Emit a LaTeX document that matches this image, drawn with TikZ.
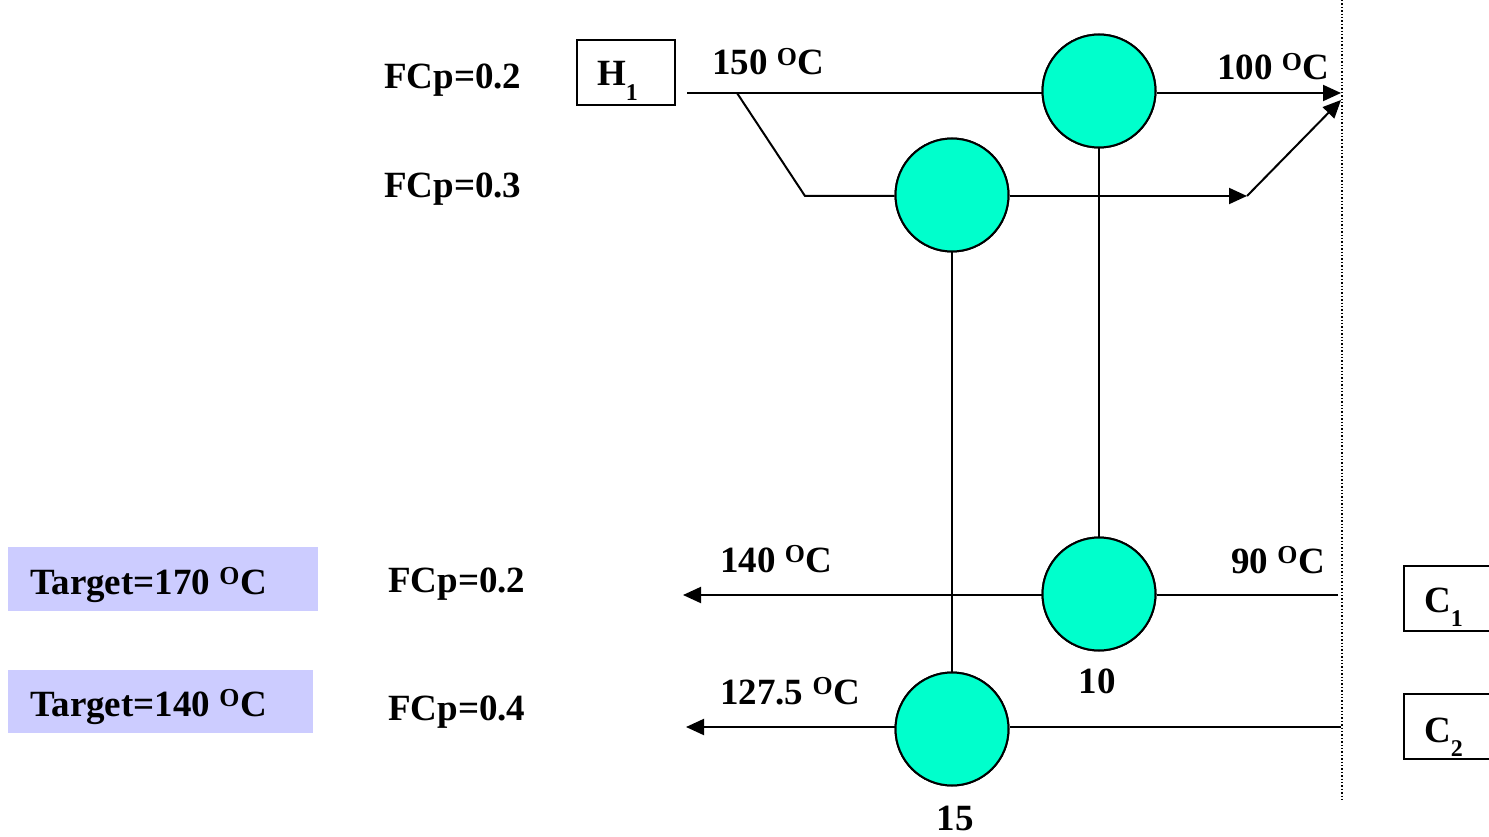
\documentclass[tikz,border=0pt]{standalone}
\usepackage{fontspec}
\setmainfont{Liberation Serif}
\usetikzlibrary{arrows.meta}
\definecolor{hxfill}{HTML}{00FFCC}
\definecolor{tgfill}{HTML}{CCCCFF}
\tikzset{
  lbl/.style={anchor=base west, inner sep=0pt, font=\fontsize{37}{40}\selectfont\bfseries},
  lblc/.style={anchor=base, inner sep=0pt, font=\fontsize{37}{40}\selectfont\bfseries},
  hx/.style={circle, draw, line width=2pt, fill=hxfill, minimum size=113pt, inner sep=0pt},
  strm/.style={line width=2pt},
  arr/.style={line width=2pt, -{Triangle[length=18pt,width=16pt]}},
  sbox/.style={draw, line width=1.6pt},
  tbox/.style={fill=tgfill, draw=none},
}
\newcommand{\degO}{\textsuperscript{O}}
\newcommand{\lowsub}[1]{\raisebox{-0.4em}{\fontsize{24}{24}\selectfont #1}}
\begin{document}
\begin{tikzpicture}[x=1pt,y=-1pt]
\useasboundingbox (0,0) rectangle (1489,837);
% exchangers
\node[hx] (E1) at (1099,91) {};
\node[hx] (E2) at (952,195) {};
\node[hx] (E3) at (1099,594) {};
\node[hx] (E4) at (952,729) {};
% coordinates
\coordinate (h1s) at (687,93);
\coordinate (h1e) at (1341,93);
\coordinate (sp) at (737,93);
\coordinate (sp2) at (805,196);
\coordinate (m1) at (1247,196);
\coordinate (d1) at (1341,100);
\coordinate (c1s) at (1338,595);
\coordinate (c1e) at (683,595);
\coordinate (c2s) at (1341,727);
\coordinate (c2e) at (686,727);
\coordinate (dt) at (1342,0);
\coordinate (db) at (1342,800);
% dotted boundary
\draw[dotted, line width=1.4pt] (dt) -- (db);
% hot stream H1
\draw[strm] (h1s) -- (E1.west |- h1s);
\draw[arr] (E1.east |- h1e) -- (h1e);
\draw[strm] (sp) -- (sp2) -- (E2.west |- sp2);
\draw[arr] (E2.east |- m1) -- (m1);
\draw[arr] (m1) -- (d1);
% matches
\draw[strm] (E1.south) -- (E3.north);
\draw[strm] (E2.south) -- (E4.north);
% cold streams
\draw[strm] (c1s) -- (E3.east |- c1s);
\draw[arr] (E3.west |- c1e) -- (c1e);
\draw[strm] (c2s) -- (E4.east |- c2s);
\draw[arr] (E4.west |- c2e) -- (c2e);
% redraw exchangers on top
\node[hx] at (E1) {};
\node[hx] at (E2) {};
\node[hx] at (E3) {};
\node[hx] at (E4) {};
% stream boxes
\draw[sbox] (577,40) rectangle (675,105);
\node[lbl] (H1) at (597,86) {H\lowsub{1}};
\begin{scope}
\clip (0,0) rectangle (1489,837);
\draw[sbox] (1404,566) rectangle (1502,631);
\draw[sbox] (1404,694) rectangle (1502,759);
\end{scope}
\node[lbl] (C1) at (1424,612) {C\lowsub{1}};
\node[lbl] (C2) at (1424,742) {C\lowsub{2}};
% target boxes
\fill[tgfill] (8,547) rectangle (318,611);
\fill[tgfill] (8,670) rectangle (313,733);
\node[lbl] (T1) at (30,594) {Target=170 \degO C};
\node[lbl] (T2) at (30,716) {Target=140 \degO C};
% FCp labels
\node[lbl] (F1) at (384,89) {FCp=0.2};
\node[lbl] (F2) at (384,198) {FCp=0.3};
\node[lbl] (F3) at (388,592) {FCp=0.2};
\node[lbl] (F4) at (388,720) {FCp=0.4};
% temperatures
\node[lbl] (t150) at (712,75) {150 \degO C};
\node[lbl] (t100) at (1217,80) {100 \degO C};
\node[lbl] (t140) at (720,572) {140 \degO C};
\node[lbl] (t90) at (1231,573) {90 \degO C};
\node[lbl] (t127) at (720,704) {127.5 \degO C};
% loads
\node[lblc] (q10) at (1097,693) {10};
\node[lblc] (q15) at (955,830) {15};
\end{tikzpicture}
\end{document}
